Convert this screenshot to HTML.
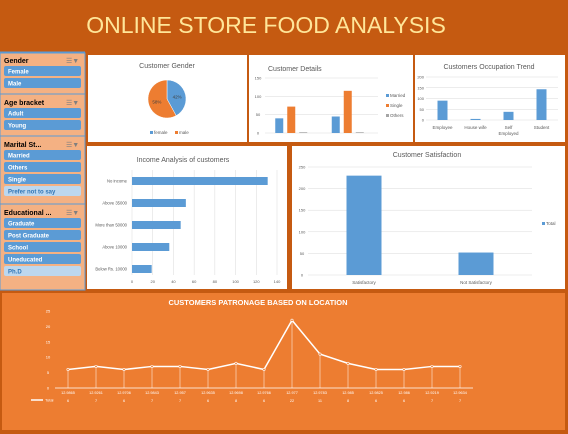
<!DOCTYPE html>
<html><head><meta charset="utf-8"><style>
html,body{margin:0;padding:0;background:#c55a11;}
svg{display:block;font-family:"Liberation Sans",sans-serif;}
</style></head><body>
<svg id="s" width="568" height="434" viewBox="0 0 568 434" xmlns="http://www.w3.org/2000/svg">
<rect x="0" y="0" width="568" height="434" fill="#c55a11"/>
<text x="266" y="33" text-anchor="middle" font-size="23" fill="#ffe699">ONLINE STORE FOOD ANALYSIS</text>
<g id="slicers"></g>
<rect x="88" y="55" width="159" height="87" fill="#fff"/>
<rect x="249" y="55" width="164" height="87" fill="#fff"/>
<rect x="415" y="55" width="150" height="87" fill="#fff"/>
<rect x="87" y="146" width="200" height="143" fill="#fff"/>
<rect x="292" y="146" width="273" height="143" fill="#fff"/>
<rect x="2" y="293" width="563" height="137" fill="#ed7d31"/>
<g id="charts"></g>
</svg>
<script>
// ---- data ----
const genderLabels=["female","male"];
const genderValues=[42,58];
const detailGroups=["A","B"];
const detailMarried=[40,45];
const detailSingle=[72,115];
const detailOthers=[2,2];
const detailTicks=[0,50,100,150];
const occCats=["Employee","House wife","Self Employed","Student"];
const occValues=[90,5,38,143];
const occTicks=[0,50,100,150,200];
const incCats=["No income","Above 35000","More than 50000","Above 10000","Below Rs. 10000"];
const incValues=[131,52,47,36,19];
const incTicks=[0,20,40,60,80,100,120,140];
const satCats=["Satisfactory","Not Satisfactory"];
const satValues=[230,52];
const satTicks=[0,50,100,150,200,250];
const locCats=["12.9865","12.9261","12.9706","12.9843","12.957","12.9635","12.9698","12.9766","12.977","12.9783","12.985","12.9825","12.986","12.9219","12.9634"];
const locValues=[6,7,6,7,7,6,8,6,22,11,8,6,6,7,7];
const locTicks=[0,5,10,15,20,25];

const NS="http://www.w3.org/2000/svg";
const root=document.getElementById('charts');
function el(tag,attrs,parent,txt){const e=document.createElementNS(NS,tag);for(const k in attrs)e.setAttribute(k,attrs[k]);if(txt!==undefined)e.textContent=txt;(parent||root).appendChild(e);return e;}
const BLUE="#5b9bd5",ORANGE="#ed7d31",GREY="#a5a5a5",GRID="#d9d9d9",TXT="#595959";

// ---- slicers ----
const sl=document.getElementById('slicers');
const slicerDefs=[
 {t:"Gender",y:55,items:["Female","Male"],h:36},
 {t:"Age bracket",y:97,items:["Adult","Young"],h:40},
 {t:"Marital St...",y:139,items:["Married","Others","Single","Prefer not to say"],h:64,light:[3]},
 {t:"Educational ...",y:207,items:["Graduate","Post Graduate","School","Uneducated","Ph.D"],h:80,light:[4]}
];
let sb=el('rect',{x:0,y:53,width:85,height:237,fill:"#f4b183",stroke:"#5b9bd5","stroke-width":1},sl);

slicerDefs.forEach((d,si)=>{
 const hd=el('text',{x:4,y:d.y+8,"font-size":7,"font-weight":"bold",fill:"#000"},sl,d.t);
 
 const fi=el('text',{x:66,y:d.y+8,"font-size":7,fill:"#7f7f7f"},sl,"☰▼");
 
 const ln=el('line',{x1:0,x2:85,y1:d.y-3,y2:d.y-3,stroke:"#5b9bd5"},sl);
 
 d.items.forEach((it,i)=>{
  const y=d.y+11+i*12;
  const light=d.light&&d.light.includes(i);
  const b=el('rect',{x:4,y:y,width:77,height:10,rx:2,fill:light?"#bdd7ee":BLUE},sl);
  
  const t=el('text',{x:8,y:y+7.5,"font-size":6,"font-weight":"bold",fill:light?"#2e75b6":"#fff"},sl,it);
  
 });
});

// ---- gender pie ----
(function(){
 const cx=167,cy=99,r=19;
 let t=el('text',{x:167,y:68,"text-anchor":"middle","font-size":7,fill:TXT},root,"Customer Gender");
 
 const tot=genderValues.reduce((a,b)=>a+b,0);let a0=-Math.PI/2;const cols=[BLUE,ORANGE];
 genderValues.forEach((v,i)=>{
  const a1=a0+v/tot*2*Math.PI;
  const x0=cx+r*Math.cos(a0),y0=cy+r*Math.sin(a0),x1=cx+r*Math.cos(a1),y1=cy+r*Math.sin(a1);
  const p=el('path',{d:`M${cx},${cy}L${x0},${y0}A${r},${r} 0 ${a1-a0>Math.PI?1:0} 1 ${x1},${y1}Z`,fill:cols[i],stroke:"#fff","stroke-width":0.5});
  
  const am=(a0+a1)/2;
  const l=el('text',{x:cx+r*0.55*Math.cos(am),y:cy+r*0.55*Math.sin(am)+2,"text-anchor":"middle","font-size":4.5,fill:"#404040"},root,v+"%");
  
  const lx=150+i*25;
  const lr=el('rect',{x:lx,y:131,width:3,height:3,fill:cols[i]});
  
  const lt=el('text',{x:lx+4,y:134,"font-size":4.5,fill:TXT},root,genderLabels[i]);
  
  a0=a1;
 });
})();

// ---- customer details ----
(function(){
 const x0=265,x1=378,yb=133,yt=78,max=150;
 const Y=v=>yb-(v/max)*(yb-yt);
 let t=el('text',{x:268,y:71,"font-size":7,fill:TXT},root,"Customer Details");
 
 detailTicks.forEach(v=>{
  const g=el('line',{x1:x0,x2:x1,y1:Y(v),y2:Y(v),stroke:GRID,"stroke-width":0.5});
  
  const l=el('text',{x:258,y:Y(v)+1.5,"text-anchor":"middle","font-size":4,fill:TXT},root,v);
  
 });
 const series=[detailMarried,detailSingle,detailOthers],cols=[BLUE,ORANGE,GREY],names=["Married","Single","Others"];
 const gw=(x1-x0)/detailGroups.length,bw=8;
 detailGroups.forEach((g,gi)=>{
  series.forEach((s,si)=>{
   const bx=x0+gi*gw+gw/2-18+si*12;
   const b=el('rect',{x:bx,y:Y(s[gi]),width:bw,height:yb-Y(s[gi]),fill:cols[si]});
   
  });
 });
 names.forEach((n,i)=>{
  const r=el('rect',{x:386,y:94+i*10,width:3,height:3,fill:cols[i]});
  
  const tt=el('text',{x:390,y:97+i*10,"font-size":4.5,fill:TXT},root,n);
  
 });
})();

// ---- occupation ----
(function(){
 const x0=426,x1=558,yb=120,yt=77,max=200;
 const Y=v=>yb-(v/max)*(yb-yt);
 let t=el('text',{x:489,y:69,"text-anchor":"middle","font-size":7,fill:TXT},root,"Customers Occupation Trend");
 
 occTicks.forEach(v=>{
  const g=el('line',{x1:x0,x2:x1,y1:Y(v),y2:Y(v),stroke:GRID,"stroke-width":0.5});
  
  const l=el('text',{x:424,y:Y(v)+1.5,"text-anchor":"end","font-size":4,fill:TXT},root,v);
  
 });
 const gw=(x1-x0)/occCats.length;
 occCats.forEach((c,i)=>{
  const cx=x0+gw*(i+0.5);
  const b=el('rect',{x:cx-5,y:Y(occValues[i]),width:10,height:yb-Y(occValues[i]),fill:BLUE});
  
  const words=c==="Self Employed"?["Self","Employed"]:[c];
  words.forEach((w,wi)=>{
   const l=el('text',{x:cx,y:129+wi*6,"text-anchor":"middle","font-size":4.5,fill:TXT},root,w);
   
  });
 });
})();

// ---- income ----
(function(){
 const x0=132,x1=277,yt=170,yb=270,max=140;
 const X=v=>x0+(v/max)*(x1-x0);
 let t=el('text',{x:183,y:162,"text-anchor":"middle","font-size":7,fill:TXT},root,"Income Analysis of customers");
 
 incTicks.forEach(v=>{
  const g=el('line',{x1:X(v),x2:X(v),y1:yt,y2:yb+5,stroke:GRID,"stroke-width":0.5});
  
  const l=el('text',{x:X(v),y:283,"text-anchor":"middle","font-size":4,fill:TXT},root,v);
  
 });
 const gh=(yb-yt+10)/incCats.length;
 incCats.forEach((c,i)=>{
  const cy=yt+gh*(i+0.5);
  const b=el('rect',{x:x0,y:cy-4,width:X(incValues[i])-x0,height:8,fill:BLUE});
  
  const l=el('text',{x:127,y:cy+1.5,"text-anchor":"end","font-size":4.2,fill:TXT},root,c);
  
 });
})();

// ---- satisfaction ----
(function(){
 const x0=308,x1=532,yb=275,yt=167,max=250;
 const Y=v=>yb-(v/max)*(yb-yt);
 let t=el('text',{x:427,y:157,"text-anchor":"middle","font-size":7,fill:TXT},root,"Customer Satisfaction");
 
 satTicks.forEach(v=>{
  const g=el('line',{x1:x0,x2:x1,y1:Y(v),y2:Y(v),stroke:GRID,"stroke-width":0.5});
  
  const l=el('text',{x:302,y:Y(v)+1.5,"text-anchor":"middle","font-size":4,fill:TXT},root,v);
  
 });
 const gw=(x1-x0)/satCats.length;
 satCats.forEach((c,i)=>{
  const cx=x0+gw*(i+0.5);
  const b=el('rect',{x:cx-17.5,y:Y(satValues[i]),width:35,height:yb-Y(satValues[i]),fill:BLUE});
  
  const l=el('text',{x:cx,y:284,"text-anchor":"middle","font-size":4.5,fill:TXT},root,c);
  
 });
 const r=el('rect',{x:542,y:222,width:3,height:3,fill:BLUE});
 
 const lt=el('text',{x:546,y:225,"font-size":4.5,fill:TXT},root,"Total");
 
})();

// ---- location line ----
(function(){
 const xl=68,xr=460,yb=388,yt=311,max=25;
 const Y=v=>yb-(v/max)*(yb-yt);
 const X=i=>xl+i*(xr-xl)/(locCats.length-1);
 let t=el('text',{x:258,y:305,"text-anchor":"middle","font-size":7.5,"font-weight":"bold",fill:"#fff"},root,"CUSTOMERS PATRONAGE BASED ON LOCATION");
 
 locTicks.forEach(v=>{
  const l=el('text',{x:48,y:Y(v)+1.5,"text-anchor":"middle","font-size":4,fill:"#fff"},root,v);
  
 });
 const ax=el('line',{x1:55,x2:473,y1:yb,y2:yb,stroke:"#fff","stroke-width":0.7});
 
 let d="";
 locValues.forEach((v,i)=>{
  const dl=el('line',{x1:X(i),x2:X(i),y1:Y(v),y2:yb,stroke:"#fff","stroke-width":0.5});
  
  d+=(i?"L":"M")+X(i)+","+Y(v);
 });
 const p=el('path',{d:d,fill:"none",stroke:"#fff","stroke-width":1.5});
 
 locValues.forEach((v,i)=>{
  const c=el('circle',{cx:X(i),cy:Y(v),r:1.2,fill:"#ed7d31",stroke:"#fff","stroke-width":0.6});
  
  const l=el('text',{x:X(i),y:394,"text-anchor":"middle","font-size":3.8,fill:"#fff"},root,locCats[i]);
  
  const vl=el('text',{x:X(i),y:402,"text-anchor":"middle","font-size":3.8,fill:"#fff"},root,v);
  
 });
 const lg=el('line',{x1:31,x2:43,y1:400,y2:400,stroke:"#fff","stroke-width":1.5});
 
 const lt=el('text',{x:45,y:401.5,"font-size":4,fill:"#fff"},root,"Total");
 
})();
</script>
</body></html>
